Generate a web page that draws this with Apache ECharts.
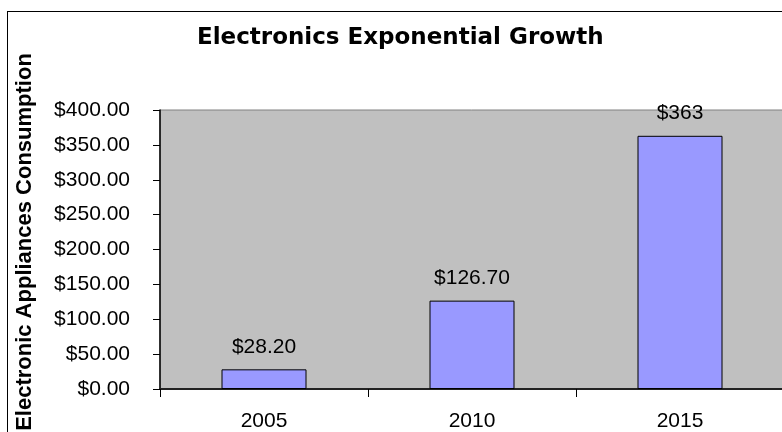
<!DOCTYPE html>
<html>
<head>
<meta charset="utf-8">
<script src="https://cdn.jsdelivr.net/npm/echarts@6/dist/echarts.min.js"></script>
<style>
  html, body { margin: 0; padding: 0; background: #fff; overflow: hidden; }
  #chart { position: absolute; left: 0; top: 0; width: 782px; height: 432px; }
  #frame { position: absolute; left: 7px; top: 11px; width: 820px; height: 500px;
           border: 1px solid #000; pointer-events: none; }
</style>
</head>
<body>
<div id="chart"></div>
<div id="frame"></div>
<script>
// data
const years = ['2005', '2010', '2015'];
const consumption = [28.2, 126.7, 363];
const barLabels = ['$28.20', '$126.70', '$363'];

const myChart = echarts.init(document.getElementById('chart'));

const options = {
  animation: false,
  textStyle: { fontFamily: 'Arial', color: '#000' },
  title: {
    text: 'Electronics Exponential Growth',
    left: 192,
    top: 22,
    textStyle: { fontFamily: 'DejaVu Sans', fontSize: 23, fontWeight: 'bold', color: '#000' }
  },
  grid: {
    left: 160, top: 110, right: -2, bottom: 43,
    outerBoundsMode: 'none',
    show: true,
    backgroundColor: '#c0c0c0',
    borderColor: '#808080',
    borderWidth: 1
  },
  xAxis: {
    type: 'category',
    data: years,
    axisLine: { lineStyle: { color: '#222', width: 2 } },
    axisTick: { show: true, length: 8, lineStyle: { color: '#000', width: 1 } },
    axisLabel: { fontSize: 21, color: '#000', margin: 22 }
  },
  yAxis: {
    type: 'value',
    min: 0, max: 400, interval: 50,
    name: 'Electronic Appliances Consumption',
    nameLocation: 'middle',
    nameGap: 124,
    nameTextStyle: { fontSize: 22, fontWeight: 'bold', color: '#000', padding: [0, 0, 0, 15] },
    axisLine: { show: true, lineStyle: { color: '#000', width: 1.5 } },
    axisTick: { show: true, length: 7, lineStyle: { color: '#000', width: 1 } },
    splitLine: { show: false },
    axisLabel: {
      fontSize: 21, color: '#000', margin: 30,
      formatter: v => '$' + v.toFixed(2)
    }
  },
  series: [{
    type: 'bar',
    data: consumption,
    barWidth: 85,
    itemStyle: { color: '#9999ff', borderColor: '#000', borderWidth: 1 },
    label: {
      show: true,
      position: 'top',
      distance: 12,
      fontSize: 21,
      color: '#000',
      formatter: p => barLabels[p.dataIndex]
    }
  }]
};

myChart.setOption(options);
</script>
</body>
</html>
